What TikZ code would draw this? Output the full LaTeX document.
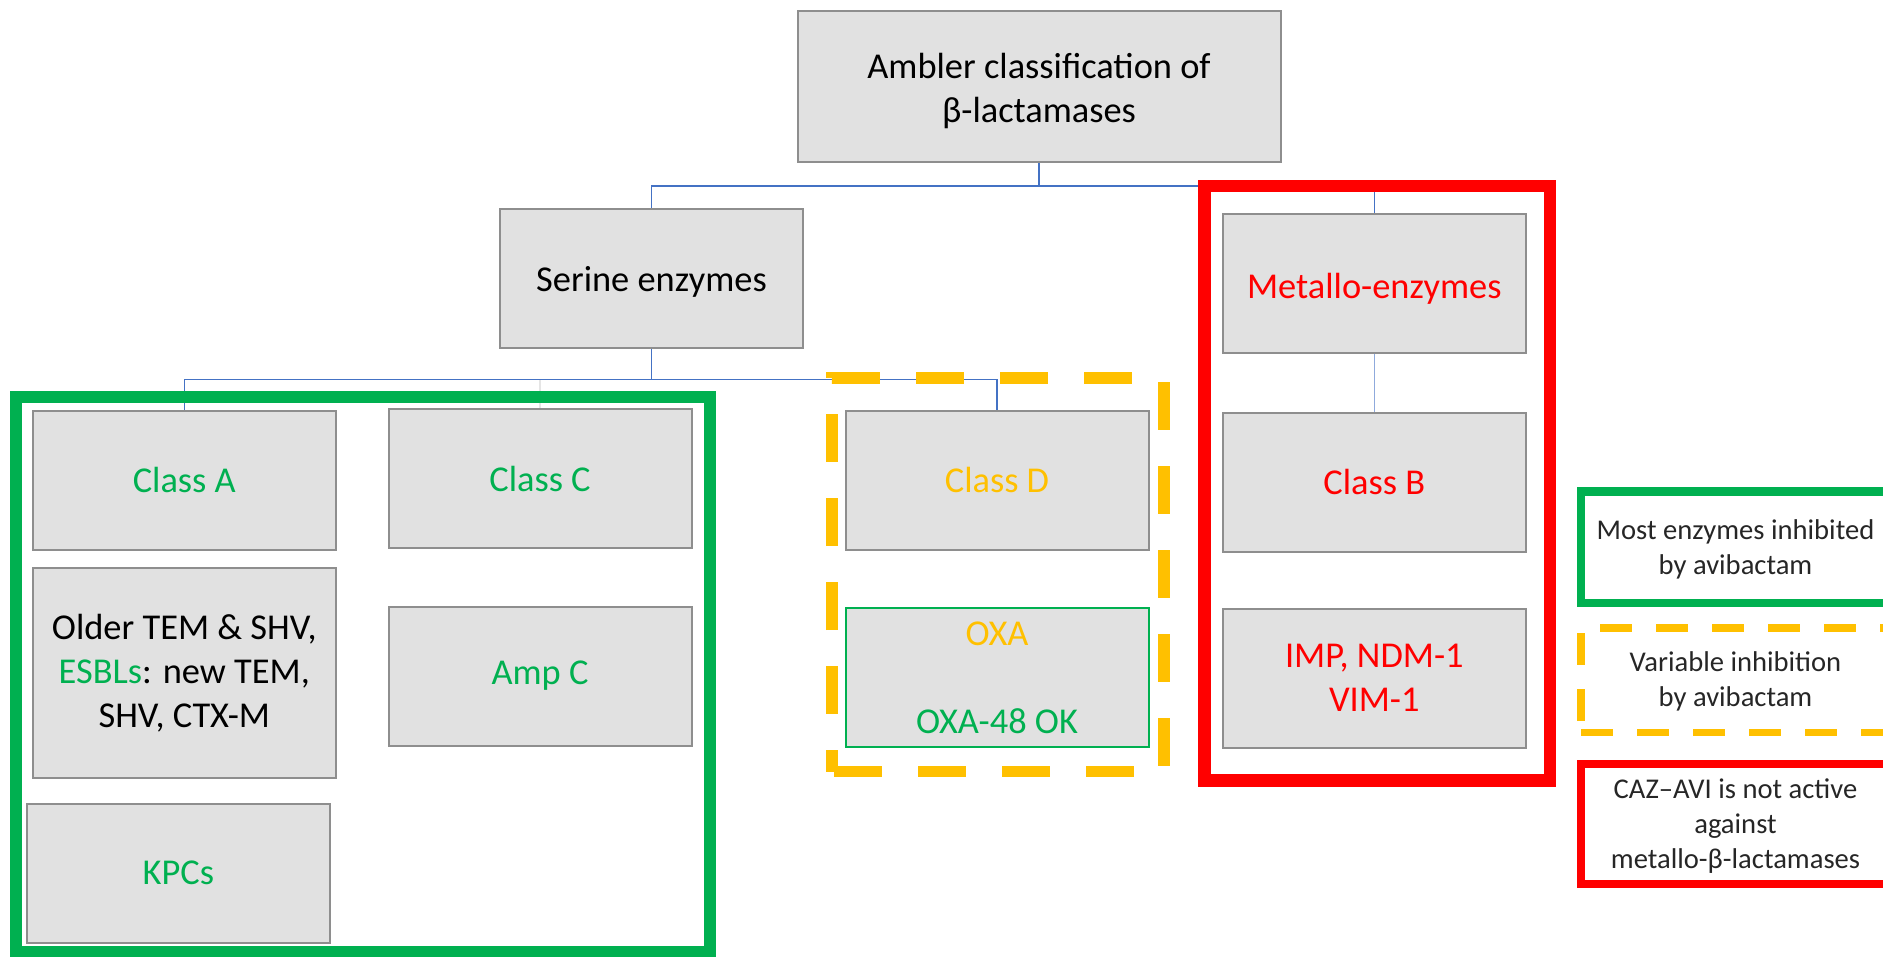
\documentclass[tikz,border=0pt]{standalone}
\usepackage{fontspec}
\setmainfont{Carlito}
\usepackage{xcolor}
\usetikzlibrary{positioning}
\definecolor{boxgray}{HTML}{E1E1E1}
\definecolor{edgegray}{HTML}{8E8E8E}
\definecolor{linkblue}{HTML}{4472C4}
\definecolor{okgreen}{HTML}{00B050}
\definecolor{varyellow}{HTML}{FFC000}
\definecolor{nored}{HTML}{FF0000}
% strut that pushes a first line a little lower in its box
\newcommand{\dropline}[1]{\rule{0pt}{\dimexpr\fontcharht\font`l+#1\relax}}

\begin{document}
\begin{tikzpicture}[
    x=0.5pt, y=-0.5pt,
    enzyme/.style={
        draw=edgegray, line width=1pt, fill=boxgray,
        rectangle, minimum width=151.5pt, minimum height=69.5pt,
        inner sep=2pt, align=center,
        font=\fontsize{18.2}{22}\selectfont
    },
    link/.style={draw=linkblue, line width=0.7pt},
    okframe/.style={draw=okgreen, line width=5.85pt},
    noframe/.style={draw=nored, line width=6.15pt},
    varframe/.style={
        draw=varyellow, line width=5.85pt,
        dash pattern=on 24pt off 18pt, dash phase=13.25pt
    },
    legend/.style={
        rectangle, minimum width=154.5pt, align=center,
        text=black!85, font=\fontsize{14.3}{17.5}\selectfont
    }
]
\useasboundingbox (0,0) rectangle (1883,959);

% top of the tree
\node[enzyme, minimum width=241.5pt, minimum height=75.5pt] (ambler) at (1039,86.5) {\dropline{4.8pt}Ambler classification of\\β-lactamases};
\node[enzyme] (serine) at (651.5,278.6) {\dropline{3.6pt}Serine enzymes};
\node[enzyme, text=nored] (metallo) at (1374.3,283.2) {\dropline{6pt}Metallo-enzymes};

% serine enzyme classes
\node[enzyme, text=okgreen] (classA) at (184.3,480) {Class A};
\node[enzyme, text=okgreen] (classC) at (540,478.5) {Class C};
\node[enzyme, text=varyellow] (classD) at (997,480) {Class D};

% examples under each class
\node[enzyme, minimum height=104.7pt, below=8.4pt of classA] (older) {Older TEM \& SHV,\\\textcolor{okgreen}{ESBLs}: new TEM,\\SHV, CTX-M};
\node[enzyme, text=okgreen, below=12pt of older, xshift=-3pt] (kpcs) {KPCs};
\node[enzyme, text=okgreen, below=28.3pt of classC] (ampc) {Amp C};
\node[enzyme, draw=okgreen, below=28.3pt of classD] (oxa) {\textcolor{varyellow}{OXA}\\[22pt]\textcolor{okgreen}{OXA-48 OK}};

% metallo side
\node[enzyme, text=nored, below=29pt of metallo] (classB) {Class B};
\node[enzyme, text=nored, below=27.5pt of classB] (imp) {IMP, NDM-1\\VIM-1};

% tree links
\draw[link, draw=gray!20] (serine.south) -- ++(0,30.5) -| (classC.north);
\draw[link] (ambler.south) -- ++(0,23) -| (serine.north);
\draw[link] (ambler.south) -- ++(0,23) -| (metallo.north);
\draw[link] (serine.south) -- ++(0,30.5) -| (classA.north);
\draw[link] (serine.south) -- ++(0,30.5) -| (classD.north);
\draw[link, draw=linkblue!60] (metallo) -- (classB);

% avibactam groups
\draw[okframe] (15.8,396.8) rectangle (710,951.5);
\draw[varframe] (832,771.5) -- (832,378) -- (1164,378) -- (1164,771.5) -- cycle;
\draw[noframe] (1204.5,186.2) rectangle (1549.8,780.5);

% legend
\node[legend, draw=okgreen, line width=4.15pt, minimum height=55.75pt] (leginh) at (1735.5,547.2) {\dropline{2.4pt}Most enzymes inhibited\\by avibactam};
\node[legend, draw=varyellow, line width=3.85pt, dash pattern=on 15.85pt off 12.15pt,
      minimum height=52.35pt, below=8.4pt of leginh] (legvar) {\dropline{1.6pt}Variable inhibition\\by avibactam};
\node[legend, draw=nored, line width=4pt, minimum height=60.1pt, below=11.7pt of legvar] (legnot) {\dropline{2.4pt}CAZ–AVI is not active\\against\\metallo-β-lactamases};

\end{tikzpicture}
\end{document}
